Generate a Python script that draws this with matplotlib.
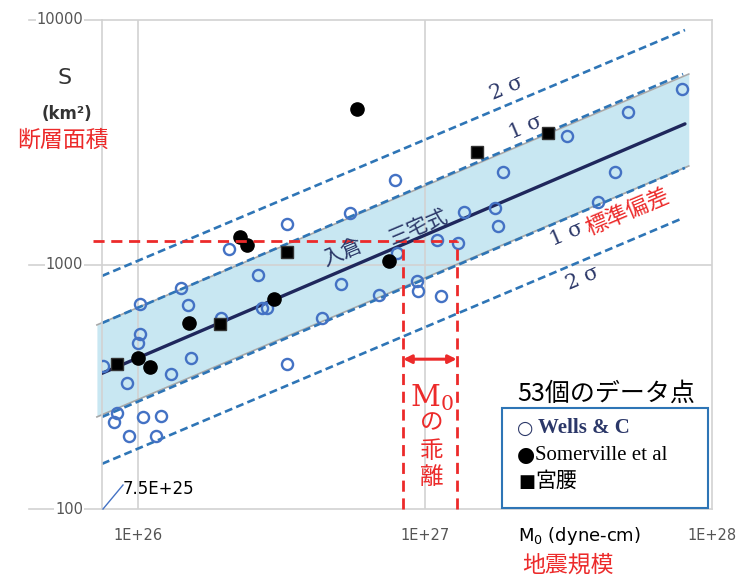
import matplotlib
matplotlib.use('Agg')
import matplotlib.pyplot as plt
from matplotlib.patches import Rectangle
from matplotlib.lines import Line2D
from matplotlib.ticker import NullLocator

plt.rcParams['font.family'] = ['DejaVu Sans', 'Noto Sans CJK JP']

# data (M0 in dyne-cm, S in km^2)
wells_M = [7.55e25, 9.2e25, 1.02e26, 1.02e26, 1.0e26, 1.41e26, 1.49e26, 1.53e26, 1.30e26,
           2.62e26, 2.70e26, 2.81e26, 1.95e26, 3.30e26, 8.45e25, 8.25e25, 1.04e26, 1.20e26,
           9.3e25, 1.16e26, 2.08e26, 3.30e26, 5.48e26, 5.09e26, 4.38e26, 6.92e26, 7.86e26,
           1.87e27, 1.37e27, 1.75e27, 1.80e27, 1.10e27, 1.30e27, 7.98e26, 9.38e26, 9.46e26,
           1.14e27, 3.13e27, 5.09e27, 7.85e27, 4.59e27, 4.01e27]
wells_S = [385, 327, 688, 520, 477, 802, 682, 415, 357,
           906, 664, 664, 604, 392, 247, 227, 238, 240,
           199, 199, 1156, 1466, 1625, 832, 604, 750, 2218,
           2388, 1640, 1703, 1436, 1260, 1224, 1115, 857, 779,
           743, 3357, 4207, 5222, 2388, 1803]

somer_M = [1.0e26, 1.10e26, 1.51e26, 2.98e26, 2.26e26, 2.40e26, 5.80e26, 7.50e26]
somer_S = [415, 381, 577, 722, 1294, 1202, 4325, 1033]

miya_M = [8.45e25, 1.93e26, 3.30e26, 1.52e27, 2.69e27]
miya_S = [392, 571, 1125, 2884, 3451]

# Irikura-Miyake line and sigma bands
fit_M = [7.5e25, 8.05e27]
fit_S = [359, 3759]
band_M = [7.2e25, 8.3e27]
band_hi = [566, 6010]
band_lo = [238, 2529]
s1_up_M = [7.5e25, 7.93e27]
s1_up_S = [576, 6010]
s1_lo_M = [7.5e25, 8.05e27]
s1_lo_S = [238, 2484]
s2_up_M = [7.5e25, 8.05e27]
s2_up_S = [898, 9100]
s2_lo_M = [7.5e25, 7.93e27]
s2_lo_S = [153, 1549]

# red guide (deviation of M0)
guide_S = 1242
guide_M = [7.0e25, 8.4e26, 1.29e27]
arrow_S = 410

yticks = [100, 1000, 10000]
ylabels = ['100', '1000', '10000']
xticks = [1e26, 1e27, 1e28]
xlabels = ['1E+26', '1E+27', '1E+28']

red = '#ec2a2a'
navy = '#2b3768'
blue = '#2e75b6'
grid_c = '#d2d2d2'
cjk = 'Noto Sans CJK JP'

fig = plt.figure(figsize=(7.54, 5.76), dpi=100)
ax = fig.add_axes([102 / 754, 67 / 576, 610 / 754, 489 / 576])
ax.set_xscale('log')
ax.set_yscale('log')
ax.set_xlim(7.5e25, 1e28)
ax.set_ylim(100, 10000)
for a in (ax.xaxis, ax.yaxis):
    a.set_major_locator(NullLocator())
    a.set_minor_locator(NullLocator())
for sp in ax.spines.values():
    sp.set_color(grid_c)
    sp.set_linewidth(1.2)

def fx(px):
    return px / 754

def fy(py):
    return 1 - py / 576

# grid
for v in xticks[:2]:
    ax.axvline(v, color=grid_c, lw=1.2, zorder=1.5)
ax.axhline(1000, color=grid_c, lw=1.2, zorder=1.5)
ytr = ax.get_yaxis_transform()
xtr = ax.get_xaxis_transform()
for v, lab in zip(yticks, ylabels):
    ax.plot([-0.12, 0], [v, v], transform=ytr, color=grid_c, lw=1.2, clip_on=False)
    ax.text(-0.031, v, lab, transform=ytr, ha='right', va='center', fontsize=10.5,
            color='#555555', bbox=dict(fc='white', ec='none', pad=0.5))
for v, lab in zip(xticks, xlabels):
    ax.text(v, -0.055, lab, transform=xtr, ha='center', va='center', fontsize=10.5,
            color='#555555')

# band
ax.fill_between(band_M, band_lo, band_hi, color='#c8e7f2', lw=0, zorder=1, clip_on=False)
ax.plot(band_M, band_hi, color='#a8a8a8', lw=1.2, zorder=1.6, clip_on=False)
ax.plot(band_M, band_lo, color='#a8a8a8', lw=1.2, zorder=1.6, clip_on=False)

ds = (0, (3, 1.6))
ax.plot(s1_up_M, s1_up_S, color=blue, lw=1.9, ls=ds, zorder=2)
ax.plot(s1_lo_M, s1_lo_S, color=blue, lw=1.9, ls=ds, zorder=2)
ax.plot(s2_up_M, s2_up_S, color=blue, lw=1.9, ls=ds, zorder=2)
ax.plot(s2_lo_M, s2_lo_S, color=blue, lw=1.9, ls=ds, zorder=2)
ax.plot(fit_M, fit_S, color='#1f275c', lw=2.4, zorder=3, solid_capstyle='round')

# points
ax.plot(wells_M, wells_S, 'o', ms=8, mfc='none', mec='#4472c4', mew=1.7, zorder=4)
ax.plot(somer_M, somer_S, 'o', ms=9.5, color='black', zorder=5)
ax.plot(miya_M, miya_S, 's', ms=9, mfc='black', mec='#333333', zorder=5)

# red guides
rd = (0, (4, 2.4))
ax.plot([guide_M[0], guide_M[2]], [guide_S, guide_S], color=red, lw=2, ls=rd, zorder=6,
        clip_on=False)
for m in guide_M[1:]:
    ax.plot([m, m], [100, guide_S], color=red, lw=2, ls=rd, zorder=6, clip_on=False)
ax.annotate('', xy=(guide_M[1], arrow_S), xytext=(guide_M[2], arrow_S),
            arrowprops=dict(arrowstyle='<|-|>', color=red, lw=2.2, mutation_scale=12,
                            shrinkA=0, shrinkB=0), zorder=7)

# annotations along the lines
rot = 23
fig.text(fx(342), fy(252), '入倉', rotation=rot, rotation_mode='anchor', ha='center',
         va='center', fontsize=15, color=navy, family=cjk)
fig.text(fx(418), fy(227), '三宅式', rotation=rot, rotation_mode='anchor', ha='center',
         va='center', fontsize=15, color=navy, family=cjk)
sig_font = ['DejaVu Serif']
fig.text(fx(507), fy(88), '2 σ', rotation=rot, rotation_mode='anchor', ha='center',
         va='center', fontsize=15, color=navy, family=sig_font)
fig.text(fx(526), fy(127), '1 σ', rotation=rot, rotation_mode='anchor', ha='center',
         va='center', fontsize=15, color=navy, family=sig_font)
fig.text(fx(567), fy(234), '1 σ', rotation=rot, rotation_mode='anchor', ha='center',
         va='center', fontsize=15, color=navy, family=sig_font)
fig.text(fx(583), fy(278), '2 σ', rotation=rot, rotation_mode='anchor', ha='center',
         va='center', fontsize=15, color=navy, family=sig_font)
fig.text(fx(628), fy(212), '標準偏差', rotation=rot, rotation_mode='anchor', ha='center',
         va='center', fontsize=16, color=red, family=cjk)

# red vertical label
fig.text(fx(432), fy(398), r'M$_\mathrm{0}$', ha='center', va='center', fontsize=21,
         color=red, family='DejaVu Serif', math_fontfamily='dejavuserif')
for ch, py in zip(['の', '乖', '離'], [423, 451, 477]):
    fig.text(fx(432), fy(py), ch, ha='center', va='center', fontsize=17, color=red,
             family=cjk)

# axis titles
fig.text(fx(65), fy(78), 'S', ha='center', va='center', fontsize=16, color='#333333')
fig.text(fx(67), fy(114), '(km²)', ha='center', va='center', fontsize=12,
         fontweight='bold', color='#333333')
fig.text(fx(63), fy(140), '断層面積', ha='center', va='center', fontsize=16.5, color=red,
         family=cjk)
fig.text(fx(579), fy(536), r'M$_0$ (dyne-cm)', ha='center', va='center', fontsize=13,
         color='black')
fig.text(fx(568), fy(565), '地震規模', ha='center', va='center', fontsize=16.5,
         color=red, family=cjk)

# 7.5E+25 marker
fig.add_artist(Line2D([fx(103), fx(123)], [fy(509), fy(485)], color='#4472c4', lw=1))
fig.text(fx(123), fy(489), '7.5E+25', ha='left', va='center', fontsize=12, color='black')

# legend box
fig.text(fx(517), fy(394), '53個のデータ点', ha='left', va='center', fontsize=18,
         color='black', family=cjk)
fig.add_artist(Rectangle((fx(502), fy(508)), fx(708) - fx(502), fy(408) - fy(508),
                         transform=fig.transFigure, fill=True, fc='white', ec=blue, lw=1.5))
leg_font = ['Liberation Serif', cjk]
fig.text(fx(517), fy(428), '○', ha='left', va='center', fontsize=13.5, color=navy,
         family='DejaVu Sans')
fig.text(fx(538), fy(428), 'Wells & C', ha='left', va='center', fontsize=15,
         color=navy, family=leg_font, fontweight='bold')
fig.text(fx(517), fy(455), '●', ha='left', va='center', fontsize=15, color='black',
         family='DejaVu Sans')
fig.text(fx(535), fy(455), 'Somerville et al', ha='left', va='center', fontsize=15,
         color='black', family=leg_font)
fig.text(fx(518), fy(482), '■', ha='left', va='center', fontsize=13, color='black',
         family='DejaVu Sans')
fig.text(fx(535), fy(482), '宮腰', ha='left', va='center', fontsize=15,
         color='black', family=leg_font)

fig.savefig('out.png', dpi=100)
